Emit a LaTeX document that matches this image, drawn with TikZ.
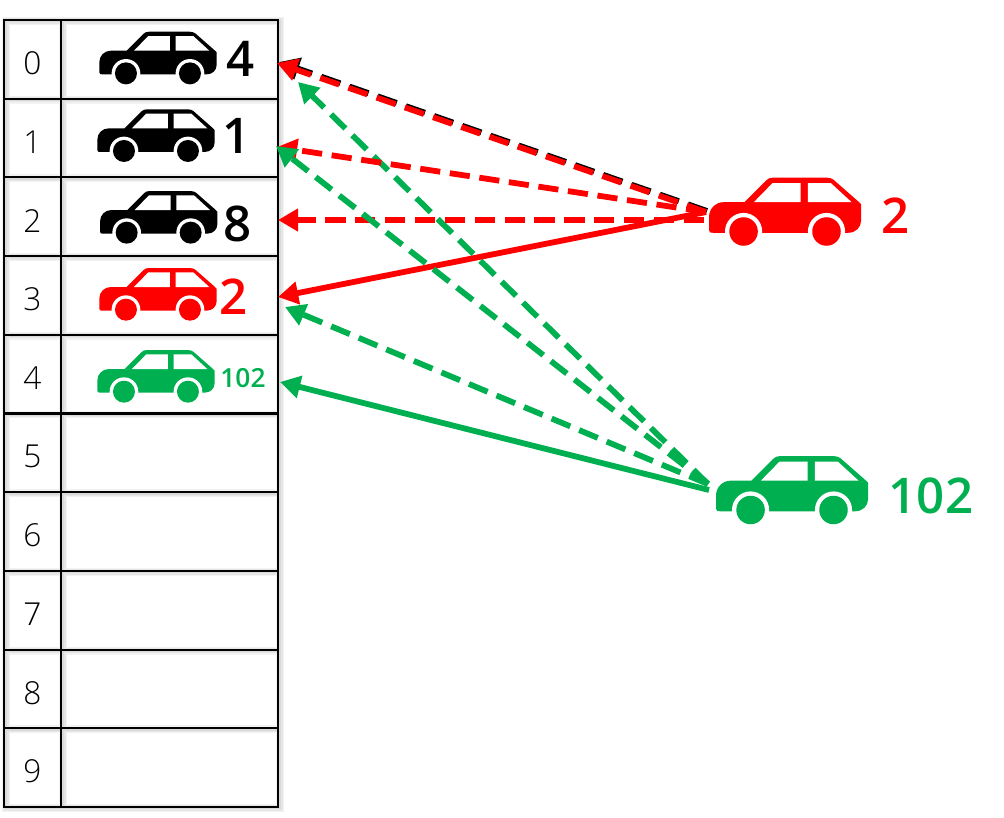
\documentclass[tikz,border=0pt]{standalone}
\usepackage{fontspec}
\setmainfont{Open Sans}
\newfontfamily\thinfont{Open Sans Light}
\newfontfamily\boldfont{Open Sans Semibold}
\usetikzlibrary{positioning,arrows.meta,calc}
\definecolor{carred}{RGB}{255,0,0}
\definecolor{cargreen}{RGB}{0,176,80}
\tikzset{
  idxcell/.style={draw,line width=1.15pt,minimum width=1.14cm,minimum height=1.574cm,inner sep=0pt},
  idxtext/.style={font=\thinfont\fontsize{18}{20}\selectfont},
  slotcell/.style={draw,line width=1.15pt,minimum width=4.34cm,minimum height=1.574cm,inner sep=0pt},
  cellshadow/.style={draw=black,draw opacity=0.05},
  valbig/.style={font=\boldfont\fontsize{28}{30}\selectfont},
  hit/.style={line width=3.3pt,-{Triangle[length=11.5pt,width=12.5pt]}},
  probe/.style={hit,dash pattern=on 11.5pt off 5.5pt},
  car/.pic={
    \fill[pic actions](0,122)..controls(0,128)and(4,128)..(10,128)--(322,128)
      ..controls(340,128)and(352,115)..(352,100)--(352,62)--(345,55)--(288,5)
      ..controls(284,2)and(278,0)..(270,0)--(150,0)..controls(142,0)and(137,2)..(133,6)
      --(82,57)--(35,57)..controls(15,57)and(0,72)..(0,92)--cycle;
    \fill[white](104,57)--(147,13)--(212,13)--(212,57)--cycle;
    \fill[white](229,13)--(282,13)--(330,57)--(229,57)--cycle;
    \fill[white](80,125)circle(43);\fill[white](272,125)circle(43);
    \fill[pic actions](80,125)circle(33);\fill[pic actions](272,125)circle(33);
  }
}
\begin{document}
\begin{tikzpicture}[x=0.02cm,y=-0.02cm]
  \useasboundingbox(0,0)rectangle(1004,818);
  \foreach \w in {1.5pt,3pt,4.5pt}{
    \draw[cellshadow,line width=\w](6,21)rectangle(280,808)(63,21)--(63,808)
      \foreach \i in {1,...,9}{(6,{21+78.7*\i})--(280,{21+78.7*\i})};
  }
  \foreach \i in {0,...,9}{
    \pgfmathsetmacro{\rowy}{20+78.7*(\i+0.5)}
    \node[idxcell](idx\i) at(32.5,\rowy){};
    \node[idxtext](lab\i) at(32.5,\rowy+4){\i};
    \node[slotcell](slot\i) at(169.5,\rowy){};
  }
  \pic[fill=black,scale=0.3333] at(99.3,31.7){car};
  \pic[fill=black,scale=0.3333] at(97.3,109.3){car};
  \pic[fill=black,scale=0.3333] at(100,191){car};
  \pic[fill=carred,scale=0.3333] at(99.3,268){car};
  \pic[fill=cargreen,scale=0.3333] at(97.3,350){car};
  \pic[fill=carred,scale=0.432] at(709,177.5){car};
  \pic[fill=cargreen,scale=0.432] at(716,456){car};
  \node[valbig](val0) at(241,59){4};
  \node[valbig](val1) at(237,136){1};
  \node[valbig](val2) at(238,224){8};
  \node[valbig,carred](val3) at(234,297){2};
  \node[cargreen,font=\boldfont\fontsize{15}{17}\selectfont](val4) at(243,378){102};
  \node[valbig,carred](redval) at(896,216){2};
  \node[valbig,cargreen](greenval) at(931,496){102};
  \coordinate(redcar) at(706,212);\coordinate(redmid) at(704,220);
  \coordinate(greencar) at(709,490);\coordinate(greenup) at(708,484);
  \coordinate(rin0) at(277,63);\coordinate(rin1) at(277,147);
  \coordinate(rin2) at(278,220);\coordinate(rin3) at(278,297);
  \coordinate(gin0) at(298,82);\coordinate(gin1) at(276,146);
  \coordinate(gin3) at(285,307);\coordinate(gin4) at(280,382);
  \draw[probe,black]($(redcar)+(1,-1)$)--($(rin0)+(2,-1)$);
  \draw[probe,cargreen](greenup)--(gin0);
  \draw[probe,carred](redcar)--(rin1);
  \draw[probe,carred](redcar)--(rin0);
  \draw[probe,carred](redmid)--(rin2);
  \draw[hit,carred](redcar)--(rin3);
  \draw[probe,cargreen](greenup)--(gin1);
  \draw[probe,cargreen](greenup)--(gin3);
  \draw[hit,cargreen](greencar)--(gin4);
\end{tikzpicture}
\end{document}
